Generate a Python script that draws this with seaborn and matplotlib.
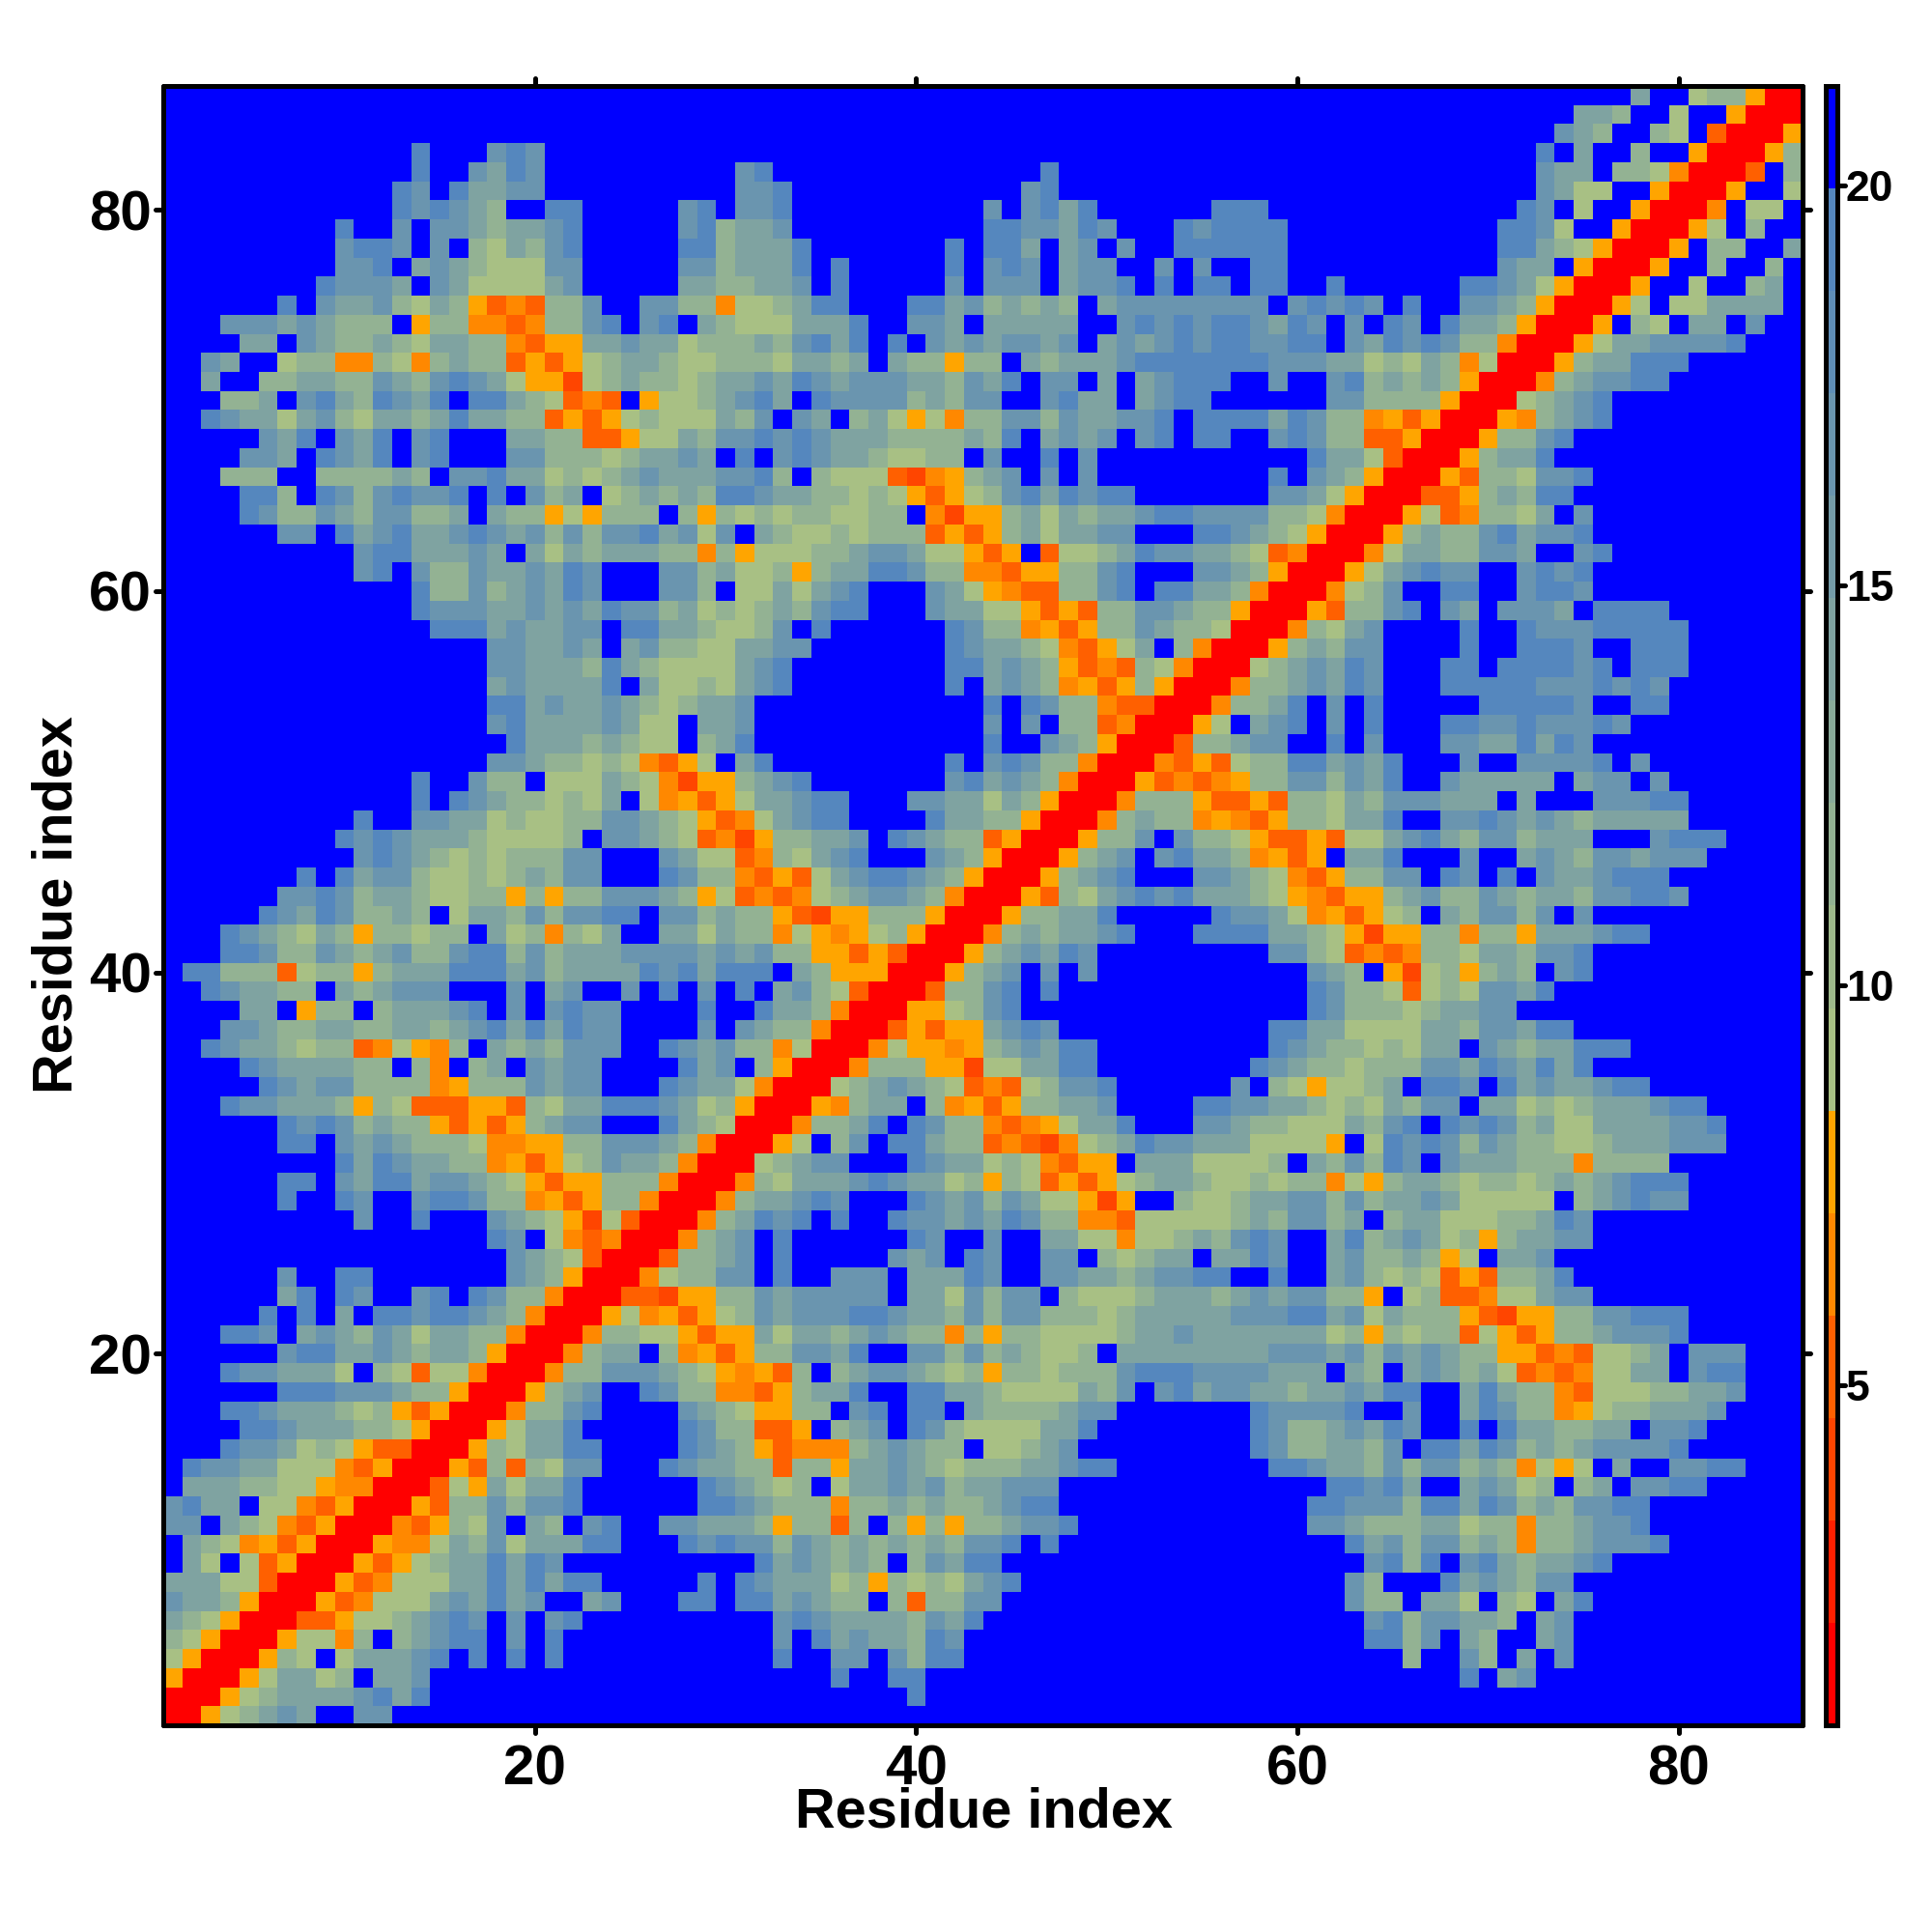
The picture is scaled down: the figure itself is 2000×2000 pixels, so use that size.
import numpy as np
import matplotlib
matplotlib.use("Agg")
import matplotlib.pyplot as plt
import matplotlib.markers as mmarkers
from matplotlib.colors import ListedColormap
import seaborn as sns

# Lower triangle of the symmetric distance map.
# Row k (from 1) holds residues 1..k-1, in groups of ten; "_" is a group of ten "." cells.
ROWS = [
"", "r", "yr", "eyr", "deyr", "cdeyr", "bccdyr", "ccceeor", ".ce.eoyr", ".cdeOyoyr",
"bb.cdeOoyr", "bacc.eeOoy r", ".cccddeeyO Or", ".abbcceeeO oyr", "...abbcede yoor",
"....aabccc ddeyr", "...aabcccd edyoyr", "......aaab bbcddyr", "...abbccce .deoeeOr",
"......baac cbcdccdyr",
"...aab.cbc dbceccddOr",
".....a.a.c .aabaabcdO r",
"......ca.a b..ba.abdd Or",
"......b..a a.......bc dyr",
"_ ........bc deor",
"_ .......ab. eOoOr",
"_ b..a...bcd eyxeor",
"......a..a b..baabddO yoyddOr",
"......aa.b caacbbcdey oyydddOr",
".........a cabccddOyo yedbccdOr",
"......aa.b cbcdddeOOy yddbbbcdOr",
"......abab dcddyoyoyd cbb...acde r",
"...abbcccd ydeoooyyod eccaaabced yr",
".....abcbb ddddOydddb cbb...abcc eOr",
"....abcccc dd.dO.dc.b cbb....acb .dyr",
"..abccdedd oOeyOd.cdc dbbb..abcb ddOer",
"...bbcddcc ddccdcbaca cabb....b. bcddOr",
"....cc.ydd .dcccba.b. babb....a. .accdOr",
"..abccdd.c dcbbb...b. cb..b.a.b. a.cbdeor",
".aadddoedd ydcccaaacb dccccabaca aa.cdyyyr",
"...aabddbc dcbddbaadb dcccbbbbcb cbddyyoyor",
"...abcdecd yddedd.ced Odec..ccec ddOeyOyedy r",
".....abcab ddcd.eccdb dbbaa.bbdc ddyoxyyddd yr",
"......bbab dccdeeddyd yddbbbcdye oOoOedcbbc dOr",
".......a.a cbbdeededc dbb...abdd Ooyoecbaab cdyr",
"_ babcdededd dbb...bcee oOdecba... bcdyr",
".........a babcccdeee ed.bbcdeoO xyddccb.ab cddoyr",
"_ a..bbccede eddbbcdeyo Oecbaa.... accddyr",
"_ ...a.abcdd edec.eOyoy eccbaa...b bccecdyr",
"_ ...a..bdd. eeecdeOxyy dcba...... .bacbcdOr",
"_ .......bbc ddedeOoye. ca........ .a.babddOr",
"_ ........ac ccdcdee.dc a......... ...a..bcdy r",
"_ .......bac cccbcee.cc b......... ...b.b.ddo Or",
"_ .......aac bccbcdedcc b......... ...a.abddO oor",
"_ .......cbc ccca.ceede cba....... .a.cbcdOyo ydyr",
"_ .......bbc ccdacdeeee cba....... .aacbcdyoO odeOr",
"_ .......bbc cbc.cbddee ccbb...... .abccdeOoy ec.dOr",
"_ ....aaacbc cbb.aaccde edb.a..... .abddOyoyd dbcdder",
"_ ...abbbccb cbcabbdced edcdbaa... bcceeyoyod dbbcddyr",
"_ ...addbdcb cab...bbd. eececba... bceyOooddb a.aaccdOr",
"_ ba.bddbccb cab...bbdc eedydccaab ddOOoyyddb a...bbcdyr",
"_ baacccbc.c ecdcccddOd yeeeddcbbc eeyoy.oeed cabbccdeoO r",
"......bb.a cbaccbabcb dbdbbacbeb .cdeededdd oyoydceccb b...aabcde yr",
"....abddbc dbbddc.cdd yeyddd.dyd ededdeedd. Oxyydcecdc cbaabbbbdd eOr",
"....aad.ab dbabba.a.b dc.edcdcda abccddedey oyedbacaba a.......bb ceyr",
"...ddd..dd ddcd.bbacc ededcbcccb bad.deeeox Oydcb.b.b. ........a. bcdyr",
"....bbc.ab ca.ba...bb dddedccbc. a.babccdee dd.b..a.b. _ acceor",
".....bca.b ca.ba...cc ddooyeecdb bababcccdd ddcda.cbcb .ba.aa..ba bddooyr",
"..abccecbd eccdcaccdd oyoyedeeec db.bc.dcey eOddbbdbcc bba.aaaaca bddOyoyr",
"...ddc.bac dabca.aacd eoOo.yeedc bac.abbbbd cdbb..bacc .cbaa..... .bbddddyr",
"..c..ddccd dbcdbabcey yxedcddedc cbcabcbbbc cdbca.bb.c .cbaaa..b. .badcdcdyr",
"..bc..eddO OdeOdcddoy oyedccdeed ddeccdc.cd dydd.cdccc baaaaaaabb bccedecdOe r",
"....cc.bcd dcdeccddOo yyccbccedd dcdbaca.a. bcbcbbcb.c bcbabaabba a.bcababdd Or",
"...bbbcbcd dd.yddOOoO ddba.ba.cd eeeccca..b bc.ccccc.. bababaabca b.b.ab.acc dyr",
"......a.bc cbdecdyoOo ddb..bbddO eedcaa...a acbdcdcd.c bbbbbbbb.b abab.a..bb cdyr",
"........ab bbc.bceeee cb.....ccd dccb.a.... .b.bbb.cbb a.a.aa.aa. .a......aa bceyr",
".........b ba.cbcdeee bb.....bbd ccca.a.... .a.bab.cbb ..b.b..aa. _ bcc.yr",
".........b aab.b.decd ba.....aad ccca...... .a.aac.cb. b..aaaaaa. _ aacdeyr",
".........a ..b.bbcdcc ba.....bad ccb....... ...aabbcab ...abaaaa. _ aabe..yr",
"_ ..ababcd.. aa.....ba. bba....... ...b.baca. .....aaa.. _ .ab.e..yr",
"_ ..ab.accbb _ bba....... .....ba... _ _ ..bcee..yr",
"_ ...a..bcab _ ba........ ......a... _ _ ..bcc.ddeO r",
"_ ...a...bab _ _ _ _ _ ..a.c..d.. yr",
"_ _ _ _ _ _ _ ...bcd..de .or",
"_ _ _ _ _ _ _ ....ccd..e ..yr",
"_ _ _ _ _ _ _ .......c.. eddyr",
]

LEVEL_CODES = list("rxoOyedcba.")
LEVEL_VALUES = [1.4, 3.9, 5.2, 6.5, 7.8, 9.1, 11.6, 14.2, 16.8, 19.4, 20.6]
BAND_COLORS = ["#FF0000", "#FF2000", "#FF4500", "#FF6000", "#FF8800", "#FFA500",
               "#A8C084", "#9EB98B", "#93B293", "#89AB9A", "#7FA3A1",
               "#749CA8", "#6A95AF", "#5F8EB7", "#5587BE", "#0000FF"]
CBAR_MIN, CBAR_MAX = 0.75, 21.25
TICKS = [20, 40, 60, 80]
CBAR_TICKS = [5, 10, 15, 20]
AXIS_LABEL = "Residue index"

value_of = dict(zip(LEVEL_CODES, LEVEL_VALUES))
n = len(ROWS)
M = np.zeros((n, n))
bad = []
for k, row in enumerate(ROWS):
    s = row.replace("_", ".").replace(" ", "") if False else "".join(
        ("." * 10 if g == "_" else g) for g in row.split())
    if len(s) != k:
        bad.append((k + 1, len(s)))
        s = (s + "." * k)[:k]
    M[k, k] = value_of["r"]
    for i, c in enumerate(s):
        M[k, i] = M[i, k] = value_of[c]
if bad:
    print("row length problems", bad)

sns.set_theme(style="white")
plt.rcParams["font.family"] = ["Liberation Sans", "DejaVu Sans"]
plt.rcParams["font.weight"] = "bold"

S = 2000.0
fig = plt.figure(figsize=(20, 20), dpi=100, facecolor="white")
L, R, T, B = 169 / S, 1866 / S, 89 / S, 1786 / S
ax = fig.add_axes([L, 1 - B, R - L, B - T])
cax = fig.add_axes([1889.5 / S, 1 - B, 12 / S, B - T])

cmap = ListedColormap(BAND_COLORS)
sns.heatmap(M, ax=ax, cbar_ax=cax, cmap=cmap, vmin=CBAR_MIN, vmax=CBAR_MAX,
            square=False, xticklabels=False, yticklabels=False, linewidths=0, rasterized=True)
ax.invert_yaxis()

lw = 3.6
tlen = 5.8
pos = [t - 0.5 for t in TICKS]
ax.set_xticks(pos)
ax.set_yticks(pos)
ax.set_xticklabels([str(t) for t in TICKS], fontsize=42, fontweight="bold", color="black")
ax.set_yticklabels([str(t) for t in TICKS], fontsize=42, fontweight="bold", color="black", rotation=0)
ax.tick_params(axis="both", which="major", direction="out", length=tlen, width=lw, color="black",
               top=True, right=True, bottom=True, left=True)
ax.tick_params(axis="x", pad=8)
ax.tick_params(axis="y", pad=3)
for s in ax.spines.values():
    s.set_visible(True)
    s.set_linewidth(lw)
    s.set_color("black")
    s.set_capstyle("round")
    s.set_zorder(5)

ax.set_xlabel(AXIS_LABEL, fontsize=41.5, fontweight="bold", color="black")
ax.set_ylabel(AXIS_LABEL, fontsize=41.5, fontweight="bold", color="black")
ax.xaxis.set_label_coords((1018 / S - L) / (R - L), (1 - 1877 / S - (1 - B)) / (B - T))
ax.xaxis.label.set_va("center")
ax.yaxis.set_label_coords((60 / S - L) / (R - L), ((1 - 937 / S) - (1 - B)) / (B - T))
ax.yaxis.label.set_va("center")

cb = ax.collections[0].colorbar
cb.set_ticks(CBAR_TICKS)
cb.set_ticklabels([str(t) for t in CBAR_TICKS])
cb.outline.set_visible(True)
cb.outline.set_linewidth(lw)
cb.outline.set_edgecolor("black")
cax.tick_params(axis="y", length=tlen, width=lw, direction="out", color="black",
                labelsize=32, pad=1, right=True, left=False)
for lab in cax.get_yticklabels():
    lab.set_fontweight("bold")
    lab.set_color("black")

for axis in (ax.xaxis, ax.yaxis, cax.yaxis):
    for t in axis.get_major_ticks():
        for line in (t.tick1line, t.tick2line):
            m = line.get_marker()
            line.set_marker(mmarkers.MarkerStyle(m, capstyle="round"))

fig.savefig("out.png", dpi=100, facecolor="white")
